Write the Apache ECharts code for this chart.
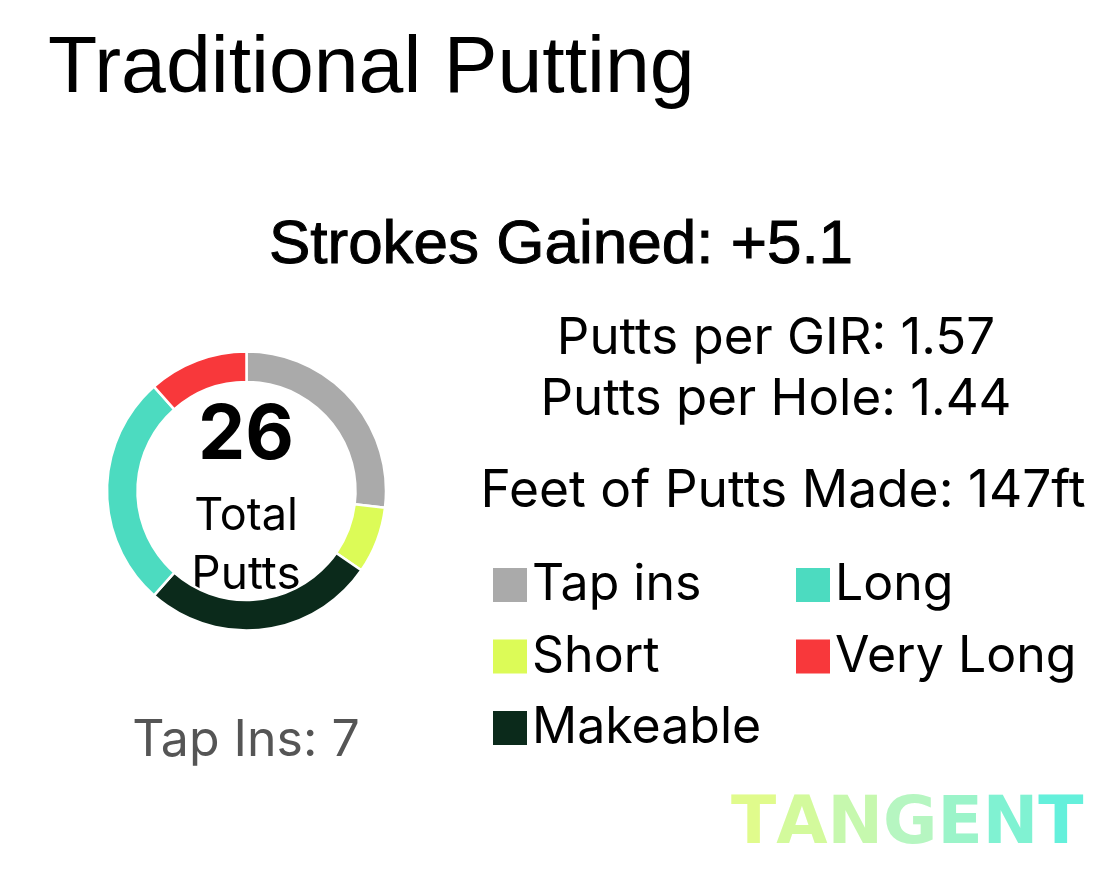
<!DOCTYPE html>
<html>
<head>
<meta charset="utf-8">
<script src="https://cdn.jsdelivr.net/npm/echarts@6/dist/echarts.min.js"></script>
<style>
html,body{margin:0;padding:0;background:#fff;}
#chart{width:1119px;height:886px;}
</style>
</head>
<body>
<div id="chart"></div>
<script>
const titleText = 'Traditional Putting';
const categories = ['Tap ins', 'Short', 'Makeable', 'Long', 'Very Long'];
const putts = [7, 2, 7, 7, 3];
const sliceColors = ['#aaaaaa', '#dcfb57', '#0b2a1b', '#4cdbc0', '#f8383b'];
const strokesGained = '+5.1';
const puttsPerGIR = '1.57';
const puttsPerHole = '1.44';
const feetMade = '147ft';
const legendCol1 = ['Tap ins', 'Short', 'Makeable'];
const legendCol2 = ['Long', 'Very Long'];
const brand = 'TANGENT';
const brandColors = ['#e6fc84', '#b8f6c0', '#58efdf'];

const totalPutts = putts.reduce((a, b) => a + b, 0);
const tapIns = putts[categories.indexOf('Tap ins')];

const chart = echarts.init(document.getElementById('chart'), null, {renderer: 'canvas'});

const sans = 'Inter';
const helv = '"Liberation Sans", Arial, sans-serif';

function txt(text, x, y, size, opts) {
  opts = opts || {};
  const st = {
    text: text,
    fontSize: size,
    fontFamily: opts.family || sans,
    fontWeight: opts.weight || 'normal',
    fill: opts.color || '#000',
    align: opts.align || 'center',
    verticalAlign: 'middle'
  };
  if (opts.border) { st.stroke = opts.color || '#000'; st.lineWidth = opts.border; }
  return {type: 'text', x: x, y: y, silent: true, style: st};
}

// brand letters with a horizontal colour gradient
function hexToRgb(h) { return [1, 3, 5].map(i => parseInt(h.substr(i, 2), 16)); }
function mix(t) {
  const seg = t * (brandColors.length - 1);
  const i = Math.min(Math.floor(seg), brandColors.length - 2);
  const f = seg - i;
  const a = hexToRgb(brandColors[i]), b = hexToRgb(brandColors[i + 1]);
  return 'rgb(' + a.map((v, k) => Math.round(v + (b[k] - v) * f)).join(',') + ')';
}
const brandSize = 66.3;
const mctx = document.createElement('canvas').getContext('2d');
mctx.font = 'bold ' + brandSize + 'px "DejaVu Sans"';
let brandWidth = 0;
for (const ch of brand) brandWidth += mctx.measureText(ch).width;
const brandLeft = 731, brandY = 826;
const brandEls = [];
let bx = 0;
for (const ch of brand) {
  const w = mctx.measureText(ch).width;
  brandEls.push({
    type: 'text', x: brandLeft + bx, y: brandY, silent: true,
    style: {
      text: ch, fontSize: brandSize, fontFamily: '"DejaVu Sans", sans-serif', fontWeight: 'bold',
      align: 'left', verticalAlign: 'middle', fill: mix((bx + w / 2) / brandWidth),
      shadowBlur: 3, shadowColor: 'rgba(0,0,0,0.10)'
    }
  });
  bx += w;
}

const legendCommon = {
  orient: 'vertical',
  icon: 'rect',
  itemWidth: 34,
  itemHeight: 34,
  itemGap: 21.5,
  padding: 0,
  selectedMode: false,
  itemStyle: {borderWidth: 0},
  textStyle: {fontFamily: sans, fontSize: 50, color: '#000'}
};

chart.setOption({
  animation: false,
  backgroundColor: '#fff',
  legend: [
    Object.assign({}, legendCommon, {data: legendCol1, left: 493, top: 560}),
    Object.assign({}, legendCommon, {data: legendCol2, left: 796, top: 560})
  ],
  series: [{
    type: 'pie',
    center: [246.5, 491],
    radius: [109, 139.5],
    startAngle: 90,
    clockwise: true,
    silent: true,
    label: {show: false},
    labelLine: {show: false},
    emphasis: {disabled: true},
    itemStyle: {borderColor: '#fff', borderWidth: 2.5},
    data: categories.map((c, i) => ({name: c, value: putts[i], itemStyle: {color: sliceColors[i]}}))
  }],
  graphic: [
    txt(titleText, 48, 70, 80.6, {family: helv, align: 'left'}),
    txt('Strokes Gained: ' + strokesGained, 561, 246, 62, {family: helv, border: 1}),
    txt('Putts per GIR: ' + puttsPerGIR, 776, 339, 51),
    txt('Putts per Hole: ' + puttsPerHole, 776, 400, 51),
    txt('Feet of Putts Made: ' + feetMade, 783, 492, 51.5),
    txt(String(totalPutts), 246, 436, 75, {weight: 'bold'}),
    txt('Total', 246, 516, 45),
    txt('Putts', 246, 575, 46),
    txt('Tap Ins: ' + tapIns, 246, 741, 50, {color: '#555555'})
  ].concat(brandEls)
});
</script>
</body>
</html>
